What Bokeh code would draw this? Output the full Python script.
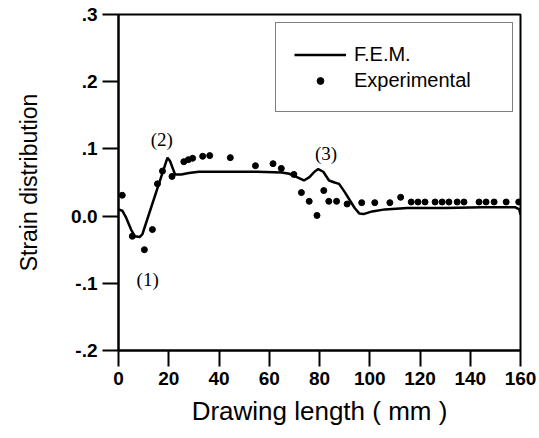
from bokeh.plotting import figure
from bokeh.models import Range1d, FixedTicker, Legend, LegendItem, Arrow, ColumnDataSource
from bokeh.core.properties import value
from bokeh.embed import file_html
from bokeh.resources import INLINE

# F.E.M. curve (drawing length mm, strain)
fem_x = [0, 1.5, 3, 5, 6.5, 8.5, 9.5, 19.5, 20.5, 22.5, 25, 28, 32, 45, 55, 65,
         68, 71, 73.8, 76, 78, 79.5, 81.5, 83.8, 86, 87.8, 90, 92, 94, 95.8, 97.5,
         101, 106, 115, 130, 145, 158, 159.5, 160]
fem_y = [0.010, 0.008, -0.002, -0.020, -0.030, -0.031, -0.027, 0.087, 0.082, 0.062,
         0.062, 0.064, 0.066, 0.066, 0.066, 0.065, 0.063, 0.058, 0.053, 0.058, 0.066,
         0.070, 0.066, 0.053, 0.050, 0.048, 0.036, 0.024, 0.012, 0.004, 0.003,
         0.007, 0.010, 0.012, 0.012, 0.013, 0.013, 0.010, 0.002]

# Experimental points
exp_x = [1.5, 5.5, 10.3, 13.5, 15.5, 17.5, 21.3, 26, 27.8, 29.5, 33.5, 36.3, 44.5,
         54.5, 61.5, 64.8, 69.8, 72.8, 75.9, 79, 81.7, 83.7, 86.8, 91, 96.8, 102,
         108, 112.3, 116.5, 119.2, 122, 126, 128.8, 131.5, 134.8, 137.5, 143.5,
         146.3, 149.5, 154.3, 159.3]
exp_y = [0.031, -0.030, -0.050, -0.020, 0.048, 0.067, 0.059, 0.081, 0.084, 0.086,
         0.089, 0.090, 0.087, 0.075, 0.078, 0.071, 0.062, 0.035, 0.022, 0.001,
         0.038, 0.022, 0.022, 0.018, 0.020, 0.020, 0.020, 0.028, 0.021, 0.021,
         0.021, 0.021, 0.021, 0.021, 0.021, 0.021, 0.021, 0.021, 0.021, 0.021, 0.021]

# Annotations
ann_text = ["(1)", "(2)", "(3)"]
ann_x = [11.6, 17.2, 82.6]
ann_y = [-0.095, 0.114, 0.093]

x_ticks = [0, 20, 40, 60, 80, 100, 120, 140, 160]
y_ticks = [-0.2, -0.1, 0.0, 0.1, 0.2, 0.3]
y_tick_labels = ["-.2", "-.1", "0.0", ".1", ".2", ".3"]

FONT = "Liberation Sans"
X_MIN, X_MAX, Y_MIN, Y_MAX = 0, 160, -0.2, 0.3
W, H = 539, 438
BL, BR, BT, BB = 118, 19, 14, 88
FRAME_W, FRAME_H = W - BL - BR, H - BT - BB
X_TICK_PX, Y_TICK_PX = 15, 18

p = figure(width=W, height=H, output_backend="svg", toolbar_location=None,
           x_range=Range1d(X_MIN, X_MAX), y_range=Range1d(Y_MIN, Y_MAX),
           min_border_left=BL, min_border_right=BR, min_border_top=BT,
           min_border_bottom=BB)
p.grid.visible = False
p.outline_line_color = "black"
p.outline_line_width = 2

fem = p.line(fem_x, fem_y, line_color="black", line_width=2.5)
exp = p.scatter(exp_x, exp_y, size=6, fill_color="black", line_color="black")

p.text(x=ann_x, y=ann_y, text=ann_text, text_font=value("Liberation Serif"),
       text_font_size="19px", text_align="center", text_baseline="middle")

p.xaxis.ticker = FixedTicker(ticks=x_ticks)
p.yaxis.ticker = FixedTicker(ticks=y_ticks)
p.yaxis.major_label_overrides = {t: l for t, l in zip(y_ticks, y_tick_labels)}

p.axis.axis_line_width = 2
p.axis.axis_line_color = "black"
p.axis.major_tick_line_width = 2
p.axis.major_tick_line_color = "black"
p.axis.major_tick_out = 16
p.axis.major_tick_in = 0
p.axis.minor_tick_line_color = None
p.axis.major_label_text_font = FONT
p.axis.major_label_text_font_size = "19px"
p.axis.major_label_text_font_style = "bold"
p.axis.major_label_text_color = "black"
p.axis.axis_label_text_font = FONT
p.axis.axis_label_text_font_style = "normal"
p.axis.axis_label_text_color = "black"

p.xaxis.axis_label = "Drawing length ( mm )"
p.xaxis.axis_label_text_font_size = "26px"
p.xaxis.axis_label_standoff = 8

p.yaxis.axis_label = "Strain distribution"
p.yaxis.axis_label_text_font_size = "23px"
p.yaxis.axis_label_standoff = 26

# outward tick marks drawn as head-less arrows (annotations are not clipped to the frame)
dy = X_TICK_PX * (Y_MAX - Y_MIN) / FRAME_H
dx = Y_TICK_PX * (X_MAX - X_MIN) / FRAME_W
xt_src = ColumnDataSource(dict(xs=x_ticks, ys=[Y_MIN] * len(x_ticks),
                               xe=x_ticks, ye=[Y_MIN - dy] * len(x_ticks)))
yt_src = ColumnDataSource(dict(xs=[X_MIN] * len(y_ticks), ys=y_ticks,
                               xe=[X_MIN - dx] * len(y_ticks), ye=y_ticks))
for src in (xt_src, yt_src):
    p.add_layout(Arrow(start=None, end=None, x_start="xs", y_start="ys",
                       x_end="xe", y_end="ye", source=src,
                       line_color="black", line_width=2))

legend = Legend(items=[LegendItem(label="F.E.M.", renderers=[fem]),
                       LegendItem(label="Experimental", renderers=[exp])],
                location=(157, 238), orientation="vertical")
legend.label_text_font = FONT
legend.label_text_font_size = "20px"
legend.label_text_color = "black"
legend.glyph_width = 52
legend.glyph_height = 17
legend.label_height = 26
legend.label_width = 140
legend.label_standoff = 8
legend.spacing = 0
legend.padding = 18
legend.margin = 0
legend.border_line_color = "black"
legend.border_line_width = 1.5
legend.background_fill_color = "white"
legend.background_fill_alpha = 1
p.add_layout(legend, "center")

open("out.html", "w").write(file_html(p, INLINE))
